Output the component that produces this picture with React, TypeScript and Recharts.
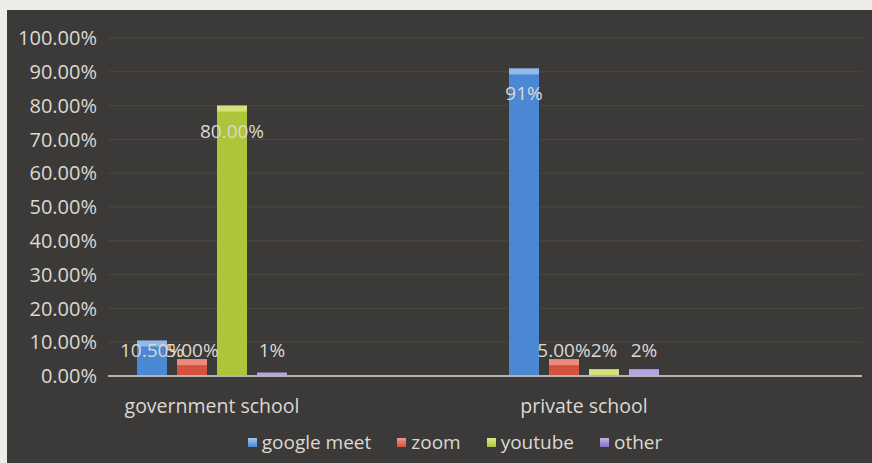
import { BarChart, Bar, XAxis, YAxis, CartesianGrid, Legend, LabelList } from "recharts";

const categories = ["government school", "private school"];
const googleMeet = [10.5, 91];
const zoom = [5, 5];
const youtube = [80, 2];
const other = [1, 2];
const googleMeetLabels = ["10.50%", "91%"];
const zoomLabels = ["5.00%", "5.00%"];
const youtubeLabels = ["80.00%", "2%"];
const otherLabels = ["1%", "2%"];
const yTicks = [0, 10, 20, 30, 40, 50, 60, 70, 80, 90, 100];

const data = categories.map((name, i) => ({
  name,
  googleMeet: googleMeet[i],
  zoom: zoom[i],
  youtube: youtube[i],
  other: other[i],
}));

const series = [
  { key: "googleMeet", name: "google meet", fill: "#4a88d4", top: "#a5c6ee", labels: googleMeetLabels },
  { key: "zoom", name: "zoom", fill: "#d4503f", top: "#ef9a8b", labels: zoomLabels },
  { key: "youtube", name: "youtube", fill: "#adc53a", top: "#dde88a", labels: youtubeLabels },
  { key: "other", name: "other", fill: "#8670c2", top: "#c2b3ec", labels: otherLabels },
];

const FONT = "'Open Sans', sans-serif";
const TEXT = "#dcd8d2";

function BarShape(props: any) {
  const { x, y, width, height, fill, top } = props;
  if (!height || height <= 0) return null;
  const cap = Math.min(6, height);
  return (
    <g>
      <rect x={x} y={y} width={width} height={height} fill={fill} />
      <rect x={x} y={y} width={width} height={cap} fill={top} opacity={0.8} />
    </g>
  );
}

// Excel-style "inside end" labels; short bars get the label above them
function makeLabel(labels: string[]) {
  return (props: any) => {
    const { x, y, width, height, index } = props;
    const base = y + height;
    const ly = height > 40 ? y + 27 : base - 24;
    return (
      <text
        x={x + width / 2}
        y={ly}
        textAnchor="middle"
        dominantBaseline="middle"
        fill={TEXT}
        fontSize={19}
        fontFamily={FONT}
      >
        {labels[index]}
      </text>
    );
  };
}

function LegendContent() {
  return (
    <div
      style={{
        display: "flex",
        justifyContent: "center",
        alignItems: "center",
        gap: 26,
        height: 30,
        paddingLeft: 38,
        fontFamily: FONT,
        fontSize: 19,
        color: TEXT,
      }}
    >
      {series.map((s) => (
        <div key={s.key} style={{ display: "flex", alignItems: "center", gap: 5 }}>
          <span
            style={{
              display: "inline-block",
              width: 9,
              height: 9,
              background: `linear-gradient(${s.top}, ${s.fill})`,
            }}
          />
          <span>{s.name}</span>
        </div>
      ))}
    </div>
  );
}

export default function App() {
  return (
    <div style={{ position: "absolute", left: 0, top: 0, width: 872, height: 463, background: "#eeece8" }}>
      <div style={{ position: "absolute", left: 7, top: 10, width: 865, height: 453, background: "#3c3a38" }} />
      <div style={{ position: "absolute", left: 0, top: 0 }}>
        <BarChart
          width={872}
          height={463}
          data={data}
          margin={{ top: 38, right: 10, bottom: 6, left: 10 }}
          barSize={30}
          barGap={10}
        >
          <CartesianGrid horizontal vertical={false} stroke="#4a4845" />
          <XAxis
            dataKey="name"
            padding={{ left: -82, right: 92 }}
            axisLine={{ stroke: "#b9b5ae", strokeWidth: 2 }}
            tickLine={false}
            tickMargin={17}
            height={51}
            tick={{ fill: TEXT, fontSize: 19.5, fontFamily: FONT }}
          />
          <YAxis
            domain={[0, 100]}
            ticks={yTicks}
            width={98}
            axisLine={false}
            tickLine={false}
            tickMargin={5}
            tickFormatter={(v: number) => `${v.toFixed(2)}%`}
            tick={{ fill: TEXT, fontSize: 20, fontFamily: FONT }}
          />
          <Legend verticalAlign="bottom" height={30} content={<LegendContent />} />
          {series.map((s) => (
            <Bar
              key={s.key}
              dataKey={s.key}
              name={s.name}
              fill={s.fill}
              isAnimationActive={false}
              shape={(p: any) => <BarShape {...p} fill={s.fill} top={s.top} />}
            >
              <LabelList dataKey={s.key} content={makeLabel(s.labels)} />
            </Bar>
          ))}
        </BarChart>
      </div>
    </div>
  );
}
